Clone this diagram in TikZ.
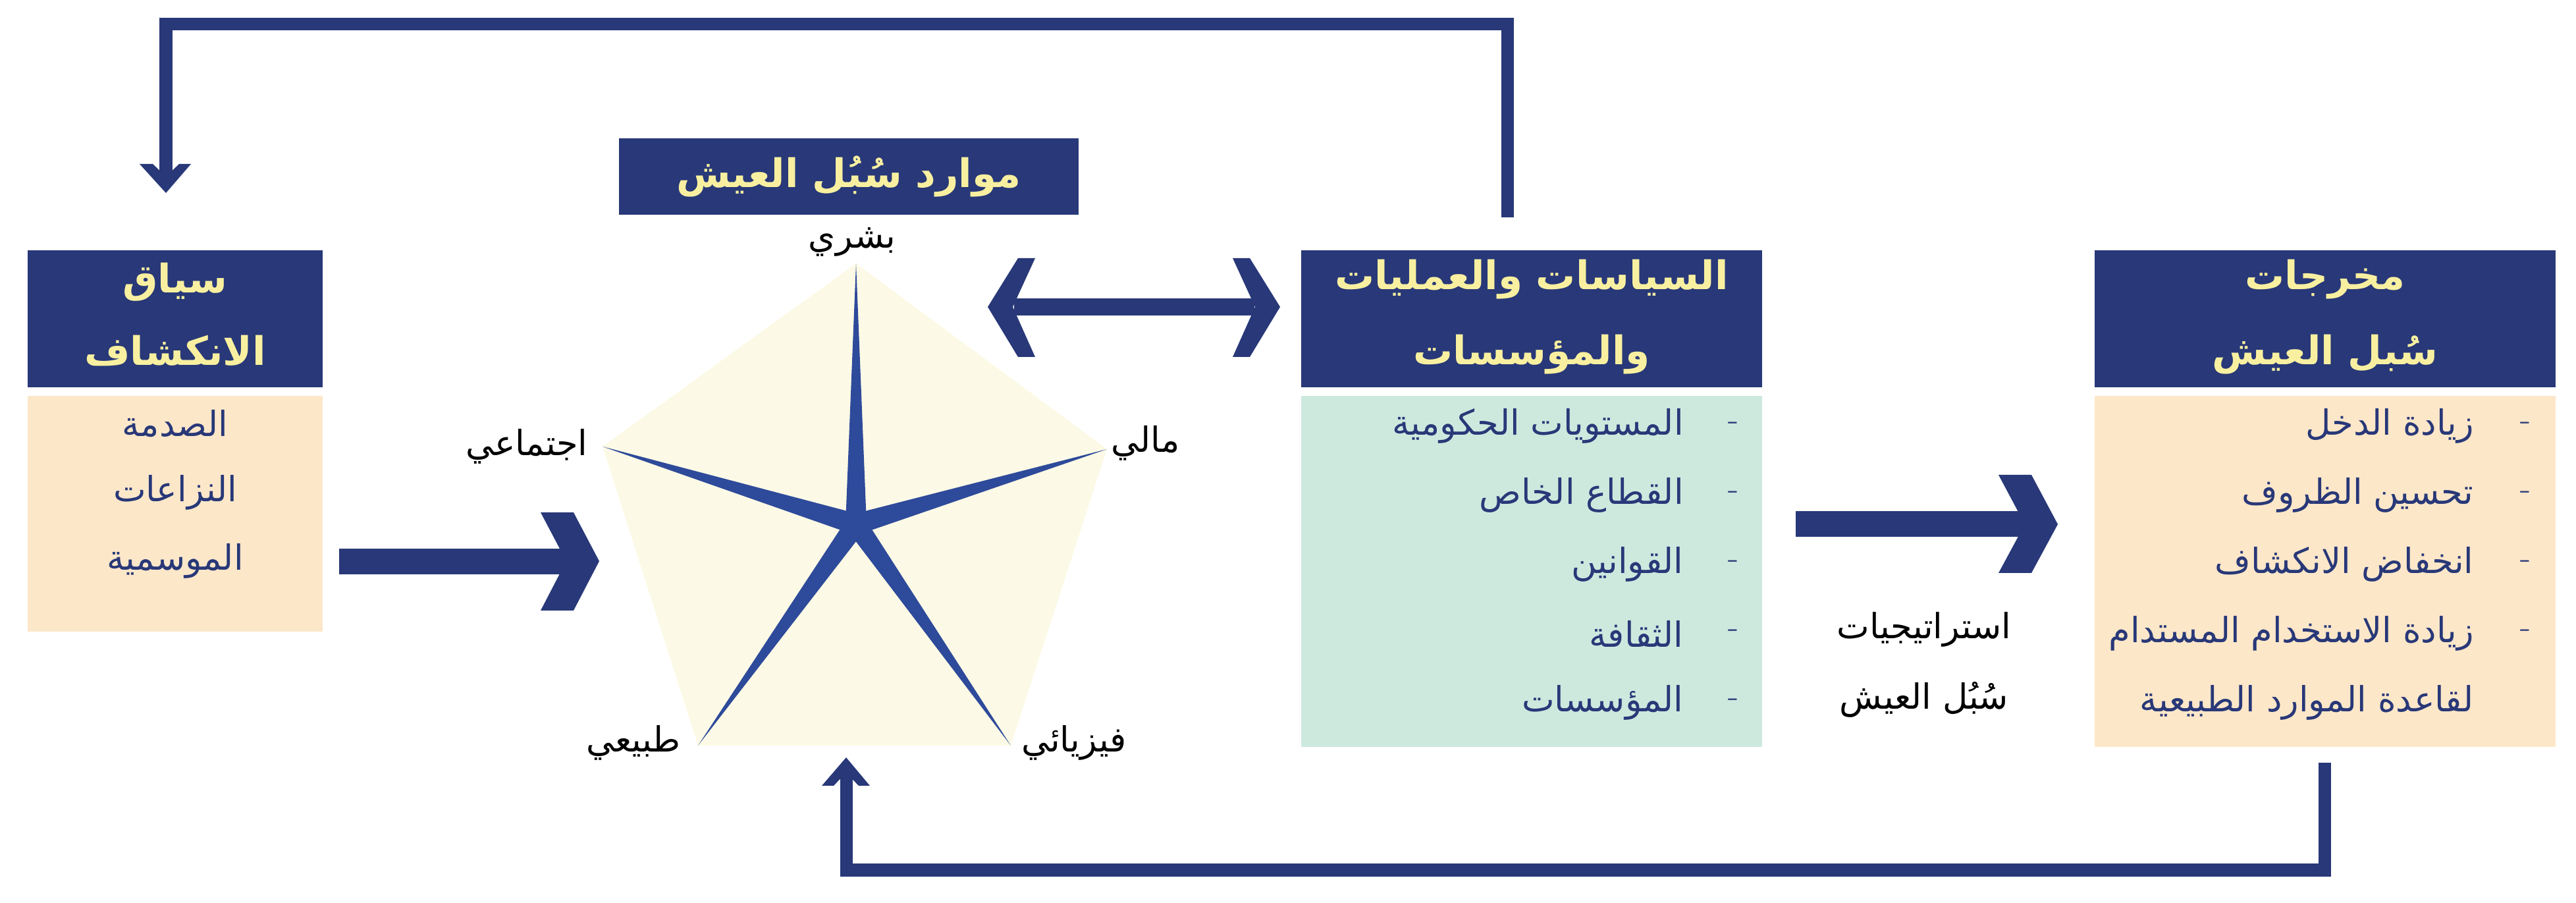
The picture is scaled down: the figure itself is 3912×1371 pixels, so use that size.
\documentclass[tikz,border=0pt]{standalone}
\usepackage{fontspec}
\usetikzlibrary{calc}
\TeXXeTstate=1
\newfontfamily\arabicfont[Script=Arabic]{DejaVu Sans}
\newcommand{\AR}[1]{{\arabicfont\beginR #1\endR}}
\definecolor{navy}{HTML}{283878}
\definecolor{starblue}{HTML}{2E4A9A}
\definecolor{ylw}{HTML}{F8F0A0}
\definecolor{peach}{HTML}{FDE7C9}
\definecolor{mint}{HTML}{CDE9DE}
\definecolor{cream}{HTML}{FCFAE6}
\tikzset{
  hdr/.style={fill=navy,draw=none},
  htxt/.style={text=ylw,font=\fontsize{17}{20}\selectfont\bfseries},
  itxt/.style={text=navy,font=\fontsize{15}{18}\selectfont},
  ktxt/.style={text=black,font=\fontsize{15}{18}\selectfont},
  loop/.style={draw=navy,line width=0.19cm},
  arr/.style={fill=navy,draw=none},
}
\begin{document}
\begin{tikzpicture}[x=0.01cm,y=-0.01cm]
\useasboundingbox (0,0) rectangle (3912,1371);
% feedback loops
\draw[loop] (252,280) -- (252,37) -- (2289,37) -- (2289,330);
\fill[arr] (212,249) -- (232,249) -- (252,268) -- (272,249) -- (290,249) -- (252,293) -- cycle;
\draw[loop] (3530,1158) -- (3530,1321) -- (1285,1321) -- (1285,1165);
\fill[arr] (1248,1193) -- (1266,1193) -- (1285,1173) -- (1304,1193) -- (1321,1193) -- (1285,1150) -- cycle;
% left box
\fill[hdr] (42,380) rectangle (490,588);
\fill[peach] (42,601) rectangle (490,959);
\node[htxt] (l1) at (266,428) {\AR{سياق}};
\node[htxt] (l2) at (266,533) {\AR{الانكشاف}};
\node[itxt] (la) at (266,643) {\AR{الصدمة}};
\node[itxt] (lb) at (266,748) {\AR{النزاعات}};
\node[itxt] (lc) at (266,852) {\AR{الموسمية}};
% arrow left -> pentagon
\fill[arr] (515,833) rectangle (870,872);
\fill[arr] (821,778) -- (871,778) -- (910,852) -- (871,927) -- (821,927) -- (860,852) -- cycle;
% title
\fill[hdr] (940,210) rectangle (1638,326);
\node[htxt] (t) at (1289,268) {\AR{موارد سُبُل العيش}};
% pentagon
\coordinate (C) at (1300,796);
\coordinate (P1) at (1300,400);
\coordinate (P2) at (1681,682);
\coordinate (P3) at (1535,1132);
\coordinate (P4) at (1060,1132);
\coordinate (P5) at (915,678);
\fill[cream] (P1) -- (P2) -- (P3) -- (P4) -- (P5) -- cycle;
\foreach \p in {P1,P2,P3,P4,P5}{
  \fill[starblue] ($(C)!0.16cm!90:(\p)$) -- (\p) -- ($(C)!0.16cm!-90:(\p)$) -- ($(C)!-0.12cm!(\p)$) -- cycle;
}
\node[ktxt] (n1) at (1294,367) {\AR{بشري}};
\node[ktxt] (n2) at (1740,673) {\AR{مالي}};
\node[ktxt] (n3) at (1631,1128) {\AR{فيزيائي}};
\node[ktxt] (n4) at (962,1128) {\AR{طبيعي}};
\node[ktxt] (n5) at (800,678) {\AR{اجتماعي}};
% double arrow
\fill[arr] (1540,453) rectangle (1905,479);
\fill[arr] (1546,392) -- (1500,466) -- (1546,542) -- (1572,542) -- (1538,466) -- (1572,392) -- cycle;
\fill[arr] (1898,392) -- (1944,466) -- (1898,542) -- (1872,542) -- (1906,466) -- (1872,392) -- cycle;
% policies box
\fill[hdr] (1976,380) rectangle (2676,588);
\fill[mint] (1976,601) rectangle (2676,1134);
\node[htxt] (p1) at (2326,424) {\AR{السياسات والعمليات}};
\node[htxt] (p2) at (2326,538) {\AR{والمؤسسات}};
\foreach \t/\y in {المستويات الحكومية/647,القطاع الخاص/752,القوانين/857,الثقافة/962,المؤسسات/1067}{
  \node[itxt,anchor=east] at (2569,\y) {\AR{\t}};
  \node[itxt] at (2632,\y) {-};
}
% middle arrow
\fill[arr] (2727,776) rectangle (3080,815);
\fill[arr] (3035,721) -- (3085,721) -- (3125,796) -- (3085,870) -- (3035,870) -- (3075,796) -- cycle;
\node[ktxt] (s1) at (2922,956) {\AR{استراتيجيات}};
\node[ktxt] (s2) at (2922,1062) {\AR{سُبُل العيش}};
% outputs box
\fill[hdr] (3181,380) rectangle (3881,588);
\fill[peach] (3181,601) rectangle (3881,1134);
\node[htxt] (o1) at (3531,424) {\AR{مخرجات}};
\node[htxt] (o2) at (3531,538) {\AR{سُبل العيش}};
\foreach \t/\y in {زيادة الدخل/647,تحسين الظروف/752,انخفاض الانكشاف/857,زيادة الاستخدام المستدام/962}{
  \node[itxt,anchor=east] at (3769,\y) {\AR{\t}};
  \node[itxt] at (3835,\y) {-};
}
\node[itxt,anchor=east] (o9) at (3769,1067) {\AR{لقاعدة الموارد الطبيعية}};
\end{tikzpicture}
\end{document}
